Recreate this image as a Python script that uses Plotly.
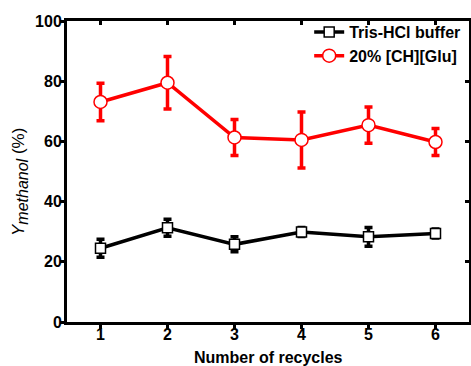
import plotly.graph_objects as go

recycles = [1, 2, 3, 4, 5, 6]
tris_y = [24.5, 31.3, 25.8, 29.9, 28.3, 29.4]
tris_err = [3.0, 2.8, 2.5, 1.5, 3.1, 1.5]
ch_y = [73.1, 79.5, 61.3, 60.5, 65.4, 59.8]
ch_err = [6.2, 8.7, 6.0, 9.3, 6.0, 4.5]
x_ticks = [1, 2, 3, 4, 5, 6]
y_ticks = [0, 20, 40, 60, 80, 100]

FONT = "Liberation Sans, Arial, sans-serif"

fig = go.Figure()
fig.add_trace(go.Scatter(
    x=recycles, y=tris_y, name="<b>Tris-HCl buffer</b>", mode="lines+markers",
    line=dict(color="black", width=3.5),
    marker=dict(symbol="square", size=10, color="white", line=dict(color="black", width=1.5)),
    error_y=dict(type="data", array=tris_err, color="black", thickness=3.5, width=4),
))
fig.add_trace(go.Scatter(
    x=recycles, y=ch_y, name="<b>20% [CH][Glu]</b>", mode="lines+markers",
    line=dict(color="#ff0000", width=3.5),
    marker=dict(symbol="circle", size=13, color="white", line=dict(color="#ff0000", width=1.5)),
    error_y=dict(type="data", array=ch_err, color="#ff0000", thickness=3.5, width=4),
))
# invisible trace to anchor mirror axes
fig.add_trace(go.Scatter(x=[1], y=[0], xaxis="x2", yaxis="y2", mode="markers",
                         marker=dict(opacity=0), showlegend=False, hoverinfo="skip"))

fig.update_layout(
    width=471, height=366,
    margin=dict(l=67, r=2, t=21, b=44, autoexpand=False),
    paper_bgcolor="white", plot_bgcolor="white",
    font=dict(family=FONT, color="black"),
    showlegend=True,
    legend=dict(x=0.993, xanchor="right", y=1.02, yanchor="top",
                font=dict(size=16, family=FONT, color="black"),
                bgcolor="rgba(0,0,0,0)", borderwidth=0, itemwidth=30),
    xaxis=dict(range=[0.5, 6.5], tickvals=x_ticks, ticktext=[f"<b>{v}</b>" for v in x_ticks],
               showgrid=False, zeroline=False, showline=True, linecolor="black", linewidth=3,
               ticks="outside", ticklen=4, tickwidth=3, tickcolor="black",
               tickfont=dict(size=16, family=FONT), automargin=False, ticklabelstandoff=-8),
    yaxis=dict(range=[0, 100], tickvals=y_ticks, ticktext=[f"<b>{v}</b>" for v in y_ticks],
               showgrid=False, zeroline=False, showline=True, linecolor="black", linewidth=3,
               ticks="outside", ticklen=4, tickwidth=3, tickcolor="black",
               tickfont=dict(size=16, family=FONT), automargin=False, ticklabelstandoff=-5),
    xaxis2=dict(range=[0.5, 6.5], overlaying="x", side="top", tickvals=x_ticks, showticklabels=False,
                showgrid=False, zeroline=False, showline=True, linecolor="black", linewidth=3,
                ticks="inside", ticklen=4, tickwidth=3, tickcolor="black", anchor="y2"),
    yaxis2=dict(range=[0, 100], overlaying="y", side="right", tickvals=y_ticks, showticklabels=False,
                showgrid=False, zeroline=False, showline=True, linecolor="black", linewidth=1.5,
                ticks="inside", ticklen=4, tickwidth=3, tickcolor="black", anchor="x2"),
    annotations=[
        dict(text="<b>Number of recycles</b>", xref="paper", yref="paper",
             x=0.5, y=(322 - 358) / 301, xanchor="center", yanchor="middle",
             showarrow=False, font=dict(size=16, family=FONT, color="black")),
        dict(text="<i>Y</i><sub><span style='font-size:16px'><i>methanol</i></span></sub> (%)",
             xref="paper", yref="paper",
             x=(20 - 67) / 402, y=(322 - 182) / 301, xanchor="center", yanchor="middle",
             textangle=-90, showarrow=False, font=dict(size=17, family=FONT, color="black")),
    ],
)

fig.write_html("out.html", config={"displayModeBar": False},
               post_script="document.body.style.margin='0';document.body.style.overflow='hidden';")
